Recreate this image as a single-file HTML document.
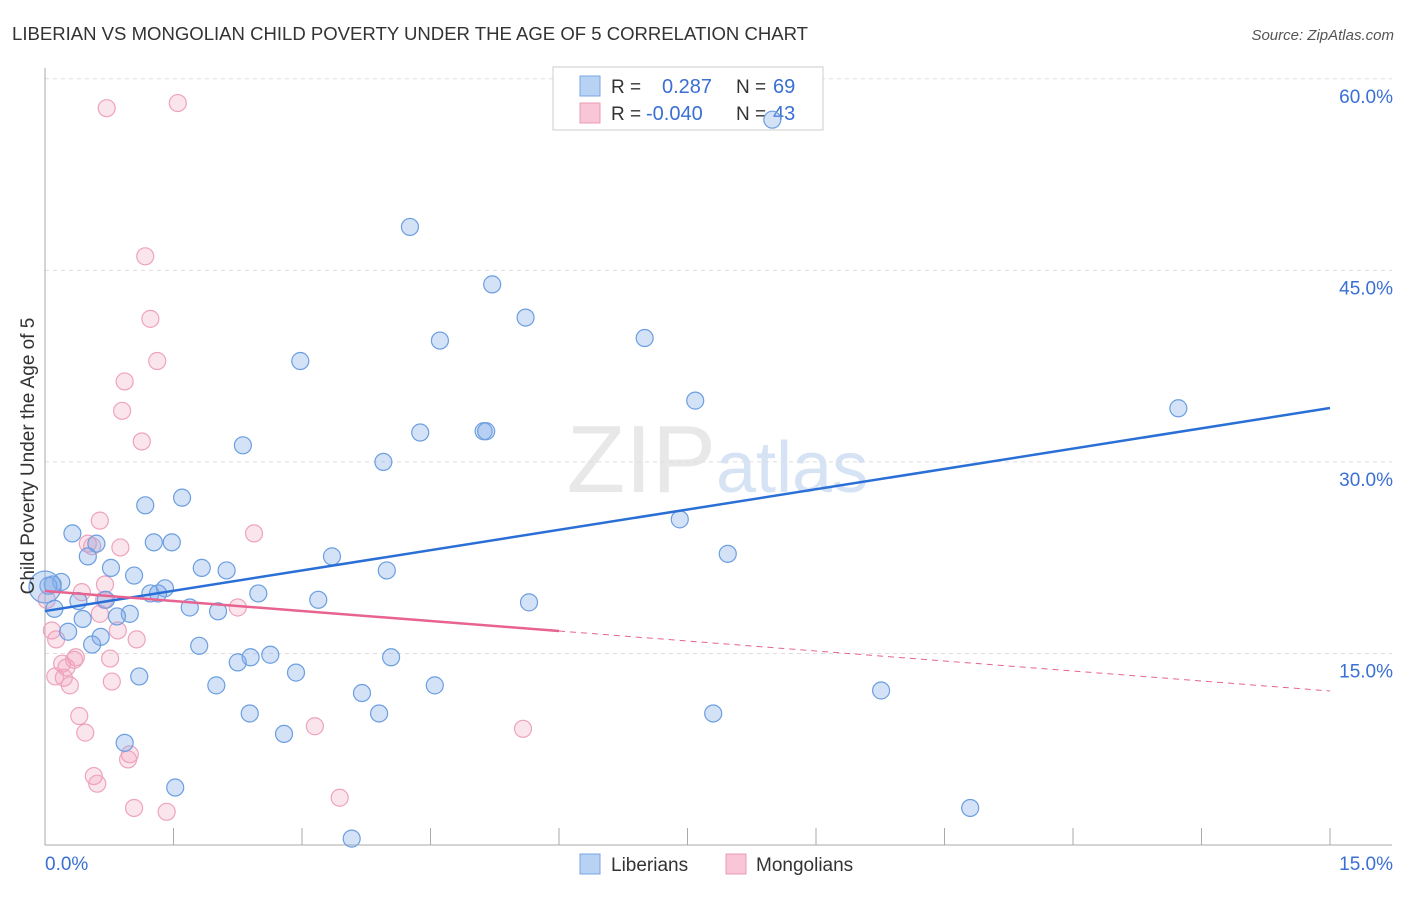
<!DOCTYPE html>
<html><head><meta charset="utf-8"><style>
body{margin:0;background:#fff;font-family:"Liberation Sans",sans-serif;}
svg text{font-family:"Liberation Sans",sans-serif;}
</style></head><body>
<svg width="1406" height="892" id="chart">
<text x="12" y="40" font-size="18" fill="#333" textLength="796" lengthAdjust="spacingAndGlyphs">LIBERIAN VS MONGOLIAN CHILD POVERTY UNDER THE AGE OF 5 CORRELATION CHART</text>
<text x="1394" y="40" font-size="15" fill="#555" font-style="italic" text-anchor="end">Source: ZipAtlas.com</text>
<text x="716" y="492" font-size="96" fill="#e8e8e8" text-anchor="end" font-family="Liberation Serif">ZIP</text>
<text x="716" y="492" font-size="72" fill="#d6e3f4">atlas</text>
<g id="grid"></g><g id="axes"></g>
<g>
<rect x="553" y="67" width="270" height="63" fill="#fff" stroke="#ccc"/>
<rect x="580" y="76" width="20" height="20" fill="#b8d2f4" stroke="#7aa6e3"/>
<rect x="580" y="103" width="20" height="20" fill="#f8c6d6" stroke="#ec9ab5"/>
<text x="611" y="93" font-size="19" fill="#333">R = </text><text x="662" y="93" font-size="20" fill="#3a6fd4">0.287</text>
<text x="736" y="93" font-size="19" fill="#333">N = </text><text x="773" y="93" font-size="20" fill="#3a6fd4">69</text>
<text x="611" y="120" font-size="19" fill="#333">R = </text><text x="646" y="120" font-size="20" fill="#3a6fd4">-0.040</text>
<text x="736" y="120" font-size="19" fill="#333">N = </text><text x="773" y="120" font-size="20" fill="#3a6fd4">43</text>
</g>
<g id="pts"></g><g id="lines"></g>
<text transform="translate(34,456) rotate(-90)" font-size="19" fill="#333" text-anchor="middle">Child Poverty Under the Age of 5</text>
<g>
<rect x="580" y="854" width="20" height="20" fill="#b8d2f4" stroke="#7aa6e3"/>
<text x="611" y="871" font-size="19" fill="#333">Liberians</text>
<rect x="726" y="854" width="20" height="20" fill="#f8c6d6" stroke="#ec9ab5"/>
<text x="756" y="871" font-size="19" fill="#333">Mongolians</text>
</g>
</svg>
<script>
const liberianX=[8.49,4.26,5.22,5.61,4.61,7.00,2.98,7.59,13.23,4.38,5.12,5.15,2.31,3.95,1.60,1.17,0.32,7.41,0.60,1.27,1.48,0.50,3.35,7.97,0.77,1.83,2.12,3.99,1.04,0.19,0.09,1.40,1.23,2.49,1.32,0.39,3.19,5.65,0.71,1.69,2.02,0.11,0.99,0.84,0.44,0.27,0.65,0.55,1.80,2.63,2.40,2.25,4.04,2.93,1.10,2.00,4.55,3.70,9.76,2.39,3.90,7.80,2.79,0.93,1.52,10.80,3.58,0.04,0.00];
const liberianY=[56.8,48.4,43.9,41.3,39.5,39.7,37.9,34.8,34.2,32.3,32.4,32.4,31.3,30.0,27.2,26.6,24.4,25.5,23.6,23.7,23.7,22.6,22.6,22.8,21.7,21.7,21.5,21.5,21.1,20.6,20.4,20.1,19.7,19.7,19.7,19.1,19.2,19.0,19.2,18.6,18.3,18.5,18.1,17.9,17.7,16.7,16.3,15.7,15.6,14.9,14.7,14.3,14.7,13.5,13.2,12.5,12.5,11.9,12.1,10.3,10.3,10.3,8.7,8.0,4.5,2.9,0.5,20.3,20.2];
const mongolianX=[0.72,1.55,1.17,1.23,1.31,0.93,0.90,1.13,0.64,2.44,0.50,0.88,0.55,0.70,0.43,0.69,2.25,0.64,0.85,1.07,0.13,0.08,0.36,0.34,0.76,0.20,0.25,0.12,0.22,0.29,0.78,0.40,0.47,3.15,5.58,0.99,0.97,0.57,0.61,1.04,1.42,3.44,0.02];
const mongolianY=[57.7,58.1,46.1,41.2,37.9,36.3,34.0,31.6,25.4,24.4,23.6,23.3,23.4,20.4,19.8,19.2,18.6,18.1,16.8,16.1,16.1,16.8,14.7,14.5,14.6,14.2,13.9,13.2,13.1,12.5,12.8,10.1,8.8,9.3,9.1,7.1,6.7,5.4,4.8,2.9,2.6,3.7,19.2];
const yTicks=[15,30,45,60];
const yTickLabels=["15.0%","30.0%","45.0%","60.0%"];
const xTicks=[0,1.5,3,4.5,6,7.5,9,10.5,12,13.5,15];
const blueTrend=[18.32,34.22];
const pinkTrend=[19.89,12.06];
const pinkSolidEnd=6.0;
const NS="http://www.w3.org/2000/svg";
const X=v=>45+v/15*1285, Y=v=>845-v*12.77;
function mk(p,t,a){const e=document.createElementNS(NS,t);for(const k in a)e.setAttribute(k,a[k]);p.appendChild(e);return e;}
const grid=document.getElementById('grid'),axes=document.getElementById('axes'),pts=document.getElementById('pts'),lines=document.getElementById('lines');
yTicks.forEach((v,i)=>{const l=mk(grid,'line',{x1:45,x2:1392,y1:Y(v),y2:Y(v),stroke:'#ddd','stroke-dasharray':'4,4'});


const t=mk(grid,'text',{x:1393,y:Y(v)+24,'font-size':19,fill:'#3a6fd4','text-anchor':'end'});t.textContent=yTickLabels[i];

});
const ya=mk(axes,'line',{x1:45,x2:45,y1:68,y2:845,stroke:'#aaa'});


const xa=mk(axes,'line',{x1:45,x2:1392,y1:845,y2:845,stroke:'#aaa'});


xTicks.forEach(v=>{const l=mk(axes,'line',{x1:X(v),x2:X(v),y1:828,y2:845,stroke:'#aaa'});

});
const x0=mk(axes,'text',{x:45,y:870,'font-size':19,fill:'#3a6fd4'});x0.textContent='0.0%';


const x1=mk(axes,'text',{x:1393,y:870,'font-size':19,fill:'#3a6fd4','text-anchor':'end'});x1.textContent='15.0%';


mongolianX.forEach((v,i)=>{const c=mk(pts,'circle',{cx:X(v),cy:Y(mongolianY[i]),r:8.5,fill:'rgba(242,160,188,0.28)',stroke:'#eea3bd','stroke-width':1.2});

});
liberianX.forEach((v,i)=>{const c=mk(pts,'circle',{cx:X(v),cy:Y(liberianY[i]),r:i==liberianX.length-1?16:8.5,fill:'rgba(130,172,232,0.35)',stroke:'#6c9ee0','stroke-width':1.2});

});
const bl=mk(lines,'line',{x1:X(0),y1:Y(blueTrend[0]),x2:X(15),y2:Y(blueTrend[1]),stroke:'#2a6fd6','stroke-width':2.5});


const pm=pinkTrend[0]+(pinkTrend[1]-pinkTrend[0])*pinkSolidEnd/15;
const pl=mk(lines,'line',{x1:X(0),y1:Y(pinkTrend[0]),x2:X(pinkSolidEnd),y2:Y(pm),stroke:'#e8638f','stroke-width':2.5});


const pd=mk(lines,'line',{x1:X(pinkSolidEnd),y1:Y(pm),x2:X(15),y2:Y(pinkTrend[1]),stroke:'#e8638f','stroke-width':1,'stroke-dasharray':'6,5'});


</script>
</body></html>
